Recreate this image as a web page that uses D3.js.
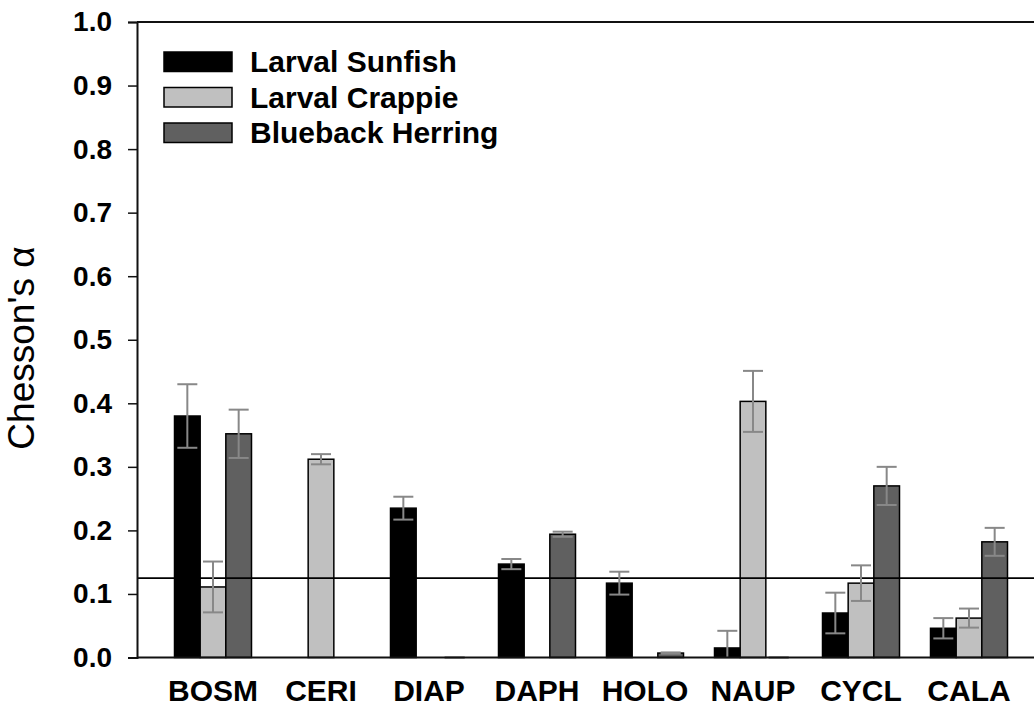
<!DOCTYPE html>
<html>
<head>
<meta charset="utf-8">
<script src="https://cdn.jsdelivr.net/npm/d3@7"></script>
<style>
  html, body { margin: 0; padding: 0; background: #fff; }
  svg { display: block; }
  text { font-family: Arial, "Liberation Sans", sans-serif; fill: #000; }
</style>
</head>
<body>
<svg id="chart" width="1034" height="709"></svg>
<script>
// Prey taxa along the x axis
const categories = ["BOSM", "CERI", "DIAP", "DAPH", "HOLO", "NAUP", "CYCL", "CALA"];
// Predator groups
const seriesNames = ["Larval Sunfish", "Larval Crappie", "Blueback Herring"];
const seriesColors = ["#000000", "#c0c0c0", "#606060"];

// Mean Chesson's alpha per taxon
const sunfishMean  = [0.380, 0,     0.235, 0.147, 0.117, 0.015, 0.070, 0.046];
const crappieMean  = [0.111, 0.312, 0,     0,     0,     0.403, 0.117, 0.062];
const herringMean  = [0.352, 0,     0,     0.194, 0.007, 0,     0.270, 0.182];
// Standard errors (null = no error bar)
const sunfishSE    = [0.050, null,  0.018, 0.008, 0.018, 0.027, 0.032, 0.016];
const crappieSE    = [0.040, 0.008, null,  null,  null,  0.048, 0.028, 0.015];
const herringSE    = [0.038, null,  0,     0.004, 0.001, 0,     0.030, 0.022];

const yTicks = [0, 0.1, 0.2, 0.3, 0.4, 0.5, 0.6, 0.7, 0.8, 0.9, 1.0];
const neutralAlpha = 0.125; // 1 / number of prey types

const means = [sunfishMean, crappieMean, herringMean];
const ses = [sunfishSE, crappieSE, herringSE];

const svg = d3.select("#chart");
const plotLeft = 137, plotTop = 22, plotBottom = 657.5, plotRight = 1060;

const x0 = d3.scaleBand().domain(categories).range([159, 1023]).padding(0);
const x1 = d3.scaleBand().domain(seriesNames).range([15.5, 92.5]).padding(0);
const y = d3.scaleLinear().domain([0, 1]).range([plotBottom, plotTop]);

// Flat bar records
const bars = [];
categories.forEach((c, i) => {
  seriesNames.forEach((s, j) => {
    bars.push({ cat: c, series: s, idx: j, v: means[j][i], se: ses[j][i] });
  });
});

// Bars
svg.append("g").selectAll("rect")
  .data(bars.filter(d => d.v > 0))
  .join("rect")
  .attr("x", d => x0(d.cat) + x1(d.series))
  .attr("y", d => y(d.v))
  .attr("width", x1.bandwidth())
  .attr("height", d => y(0) - y(d.v))
  .attr("fill", d => seriesColors[d.idx])
  .attr("stroke", "#000")
  .attr("stroke-width", 1.5);

// Neutral selection line
svg.append("line")
  .attr("x1", plotLeft).attr("x2", plotRight)
  .attr("y1", y(neutralAlpha)).attr("y2", y(neutralAlpha))
  .attr("stroke", "#000").attr("stroke-width", 1.8);

// Error bars
const eb = svg.append("g").attr("stroke", "#888").attr("stroke-width", 2).attr("fill", "none");
const capHalf = 10;
bars.filter(d => d.se !== null).forEach(d => {
  const cx = x0(d.cat) + x1(d.series) + x1.bandwidth() / 2;
  const yt = y(d.v + d.se), yb = y(Math.max(0, d.v - d.se));
  eb.append("line").attr("x1", cx).attr("x2", cx).attr("y1", yt).attr("y2", yb);
  eb.append("line").attr("x1", cx - capHalf).attr("x2", cx + capHalf).attr("y1", yt).attr("y2", yt);
  if (d.v - d.se >= 0)
    eb.append("line").attr("x1", cx - capHalf).attr("x2", cx + capHalf).attr("y1", yb).attr("y2", yb);
});

// Frame: top and bottom lines
svg.append("line").attr("x1", plotLeft).attr("x2", plotRight).attr("y1", plotTop).attr("y2", plotTop)
  .attr("stroke", "#111").attr("stroke-width", 2);
svg.append("line").attr("x1", plotLeft).attr("x2", plotRight).attr("y1", plotBottom).attr("y2", plotBottom)
  .attr("stroke", "#111").attr("stroke-width", 2);

// Y axis
const yAxis = d3.axisLeft(y).tickValues(yTicks).tickFormat(d3.format(".1f")).tickSize(9).tickPadding(16);
const gy = svg.append("g").attr("transform", `translate(${plotLeft},0)`).call(yAxis);
gy.select(".domain").attr("stroke", "#111").attr("stroke-width", 2);
gy.selectAll(".tick line").attr("stroke", "#111").attr("stroke-width", 1.5);
gy.selectAll(".tick text")
  .attr("font-family", "Arial, 'Liberation Sans', sans-serif")
  .attr("font-size", 28).attr("font-weight", "bold").attr("fill", "#000");

// X axis labels
const xAxis = d3.axisBottom(x0).tickSize(0).tickPadding(22);
const gx = svg.append("g").attr("transform", `translate(0,${plotBottom})`).call(xAxis);
gx.select(".domain").remove();
gx.selectAll(".tick text")
  .attr("font-family", "Arial, 'Liberation Sans', sans-serif")
  .attr("font-size", 30).attr("font-weight", "bold").attr("fill", "#000");

// Y axis title
svg.append("text")
  .attr("transform", `translate(34,348) rotate(-90)`)
  .attr("text-anchor", "middle")
  .attr("font-size", 37)
  .text("Chesson's α");

// Legend
const legend = svg.append("g");
seriesNames.forEach((s, j) => {
  const ly = 52 + j * 35.5;
  legend.append("rect").attr("x", 164).attr("y", ly).attr("width", 68).attr("height", 19.5)
    .attr("fill", seriesColors[j]).attr("stroke", "#000").attr("stroke-width", 1.5);
  legend.append("text").attr("x", 250).attr("y", ly + 20)
    .attr("font-size", 30).attr("font-weight", "bold").text(s);
});
</script>
</body>
</html>
